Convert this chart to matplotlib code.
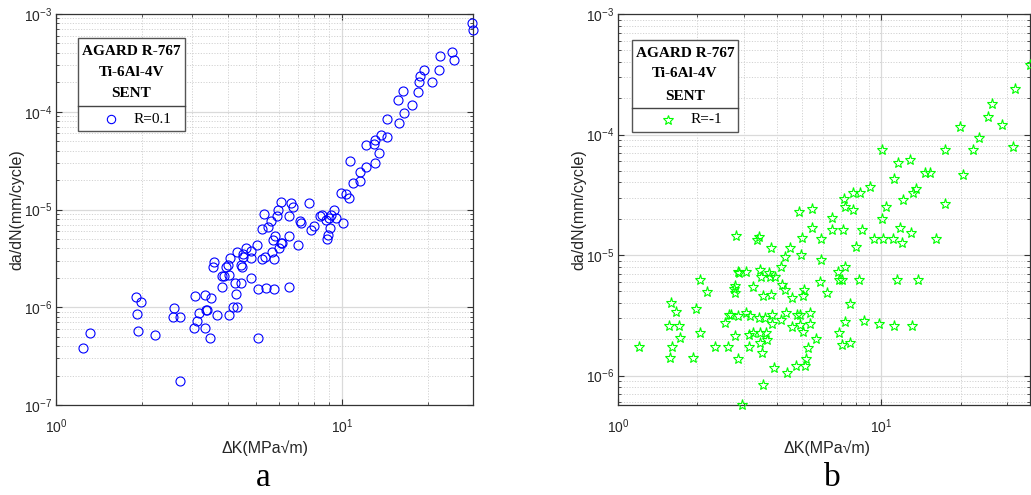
import matplotlib
matplotlib.use('Agg')
import matplotlib.pyplot as plt
from matplotlib.patches import Rectangle
from matplotlib.ticker import LogLocator, NullFormatter

plt.rcParams['font.family'] = ['Liberation Sans', 'DejaVu Sans']
plt.rcParams['mathtext.fontset'] = 'custom'
plt.rcParams['mathtext.rm'] = 'Liberation Sans'
plt.rcParams['mathtext.it'] = 'Liberation Sans:italic'

# panel a, R=0.1
dk_a = [1.24, 1.31, 1.90, 1.98, 1.92, 1.94, 2.22, 2.59, 2.57, 2.72,
        2.72, 3.07, 3.03, 3.10, 3.17, 3.31, 3.47, 3.34, 3.38, 3.33,
        3.45, 3.65, 3.57, 3.54, 3.79, 3.81, 3.86, 3.92, 3.98, 4.05,
        4.04, 4.02, 4.17, 4.31, 4.23, 4.25, 4.31, 4.45, 4.42, 4.47,
        4.49, 4.61, 4.79, 4.82, 5.06, 5.09, 5.07, 5.26, 5.26, 5.34,
        5.40, 5.41, 5.53, 5.66, 5.71, 5.74, 5.77, 5.77, 5.82, 5.91,
        5.96, 6.03, 6.11, 6.11, 6.19, 6.50, 6.50, 6.51, 6.64, 6.74,
        7.04, 7.11, 7.21, 7.67, 7.82, 7.96, 8.35, 8.54, 8.77, 8.84,
        8.96, 9.01, 9.06, 9.13, 9.40, 9.55, 9.95, 10.1, 10.35, 10.6,
        10.7, 10.9, 11.6, 11.6, 12.1, 12.1, 12.9, 13.0, 13.0, 13.5,
        13.7, 14.4, 14.4, 15.8, 15.7, 16.3, 16.5, 17.6, 18.4, 18.6,
        18.7, 19.3, 20.6, 21.9, 22.0, 24.2, 24.7, 28.5, 28.7, 4.79, 4.51]
dadn_a = [3.8e-7, 5.5e-7, 1.28e-6, 1.14e-6, 8.5e-7, 5.7e-7, 5.2e-7, 9.9e-7, 7.9e-7, 7.9e-7,
          1.76e-7, 1.30e-6, 6.1e-7, 7.2e-7, 8.7e-7, 1.35e-6, 1.25e-6, 9.4e-7, 9.4e-7, 6.1e-7,
          4.9e-7, 8.3e-7, 2.9e-6, 2.6e-6, 1.62e-6, 2.09e-6, 2.09e-6, 2.6e-6, 2.7e-6, 3.2e-6,
          2.12e-6, 8.4e-7, 1.0e-6, 1.0e-6, 1.76e-6, 1.37e-6, 3.65e-6, 1.76e-6, 2.7e-6, 2.6e-6,
          3.3e-6, 4.0e-6, 1.98e-6, 3.2e-6, 4.3e-6, 1.52e-6, 4.9e-7, 6.3e-6, 3.1e-6, 9.1e-6,
          3.3e-6, 1.58e-6, 6.7e-6, 7.6e-6, 3.7e-6, 4.9e-6, 3.1e-6, 1.52e-6, 5.3e-6, 8.5e-6,
          9.9e-6, 4.0e-6, 1.20e-5, 4.5e-6, 4.5e-6, 5.3e-6, 8.5e-6, 1.60e-6, 1.16e-5, 1.05e-5,
          4.3e-6, 7.6e-6, 7.2e-6, 1.16e-5, 6.2e-6, 6.8e-6, 8.5e-6, 8.8e-6, 7.8e-6, 5.0e-6,
          5.5e-6, 8.1e-6, 6.4e-6, 8.8e-6, 9.9e-6, 8.1e-6, 1.49e-5, 7.3e-6, 1.44e-5, 1.30e-5,
          3.1e-5, 1.85e-5, 2.4e-5, 1.97e-5, 2.74e-5, 4.6e-5, 4.7e-5, 5.1e-5, 3.0e-5, 3.8e-5,
          5.8e-5, 5.5e-5, 8.4e-5, 7.6e-5, 1.32e-4, 1.63e-4, 9.6e-5, 1.17e-4, 1.60e-4, 2.03e-4,
          2.3e-4, 2.67e-4, 2.0e-4, 2.67e-4, 3.7e-4, 4.06e-4, 3.38e-4, 8.1e-4, 6.9e-4, 3.8e-6, 3.5e-6]

# panel b, R=-1
dk_b = [1.20, 1.59, 1.66, 1.56, 1.70, 1.72, 1.61, 1.57, 1.98, 2.05,
        2.18, 2.05, 1.93, 2.34, 2.54, 2.62, 2.64, 2.69, 2.76, 2.78,
        2.78, 2.78, 2.81, 2.86, 2.89, 2.86, 2.86, 2.96, 3.07, 3.07,
        3.14, 3.14, 3.18, 3.26, 3.26, 3.38, 3.43, 3.45, 3.48, 3.43,
        3.47, 3.45, 3.52, 3.55, 3.55, 3.61, 3.64, 3.68, 3.74, 3.79,
        3.82, 3.82, 3.85, 3.85, 3.91, 3.94, 4.17, 4.20, 4.17, 4.30,
        4.30, 4.36, 4.38, 4.51, 4.59, 4.56, 4.76, 4.80, 4.87, 4.89,
        4.92, 4.97, 5.01, 5.07, 5.04, 5.04, 5.11, 5.19, 5.28, 5.34,
        5.34, 5.47, 5.44, 5.63, 5.92, 5.92, 5.83, 6.22, 6.48, 6.48,
        6.84, 6.90, 6.90, 7.11, 7.11, 7.15, 7.19, 7.26, 7.26, 7.26,
        7.58, 7.58, 7.80, 7.80, 8.04, 8.23, 8.27, 8.47, 8.59, 9.08,
        9.35, 9.80, 10.09, 10.09, 10.15, 10.45, 11.07, 11.17, 11.17, 11.5,
        11.6, 11.8, 12.0, 12.1, 12.8, 13.0, 13.1, 13.2, 13.5, 13.8,
        14.7, 15.3, 16.2, 17.4, 17.5, 19.95, 20.4, 22.3, 23.5, 25.4,
        26.4, 28.7, 31.6, 32.3, 36.7]
dadn_b = [1.72e-6, 4.0e-6, 3.4e-6, 2.6e-6, 2.6e-6, 2.04e-6, 1.72e-6, 1.41e-6, 3.55e-6, 6.2e-6,
          4.9e-6, 2.25e-6, 1.39e-6, 1.72e-6, 2.75e-6, 1.72e-6, 3.2e-6, 3.2e-6, 5.2e-6, 5.5e-6,
          4.8e-6, 2.11e-6, 1.44e-5, 7.3e-6, 7.1e-6, 3.1e-6, 1.37e-6, 5.7e-7, 7.2e-6, 3.3e-6,
          2.18e-6, 1.74e-6, 3.1e-6, 5.4e-6, 2.25e-6, 1.33e-5, 1.42e-5, 7.5e-6, 6.6e-6, 3.0e-6,
          2.25e-6, 1.85e-6, 1.53e-6, 8.4e-7, 4.6e-6, 3.0e-6, 2.25e-6, 1.98e-6, 7.1e-6, 6.6e-6,
          1.14e-5, 4.7e-6, 3.2e-6, 2.7e-6, 1.15e-6, 6.6e-6, 8.0e-6, 5.6e-6, 2.9e-6, 9.7e-6,
          5.1e-6, 3.3e-6, 1.05e-6, 1.14e-5, 4.4e-6, 2.55e-6, 1.19e-6, 3.2e-6, 2.29e-5, 3.2e-6,
          2.64e-6, 1.0e-5, 1.38e-5, 5.1e-6, 4.6e-6, 2.32e-6, 1.19e-6, 1.37e-6, 1.69e-6, 2.7e-6,
          3.3e-6, 2.4e-5, 1.69e-5, 2.0e-6, 1.35e-5, 9.1e-6, 6.0e-6, 4.8e-6, 2.02e-5, 1.62e-5,
          7.3e-6, 6.2e-6, 2.25e-6, 6.2e-6, 1.78e-6, 1.62e-5, 2.9e-5, 2.5e-5, 8.0e-6, 2.8e-6,
          1.85e-6, 3.9e-6, 3.26e-5, 2.37e-5, 1.17e-5, 6.2e-6, 3.26e-5, 1.62e-5, 2.86e-6, 3.7e-5,
          1.35e-5, 2.7e-6, 7.5e-5, 1.98e-5, 1.35e-5, 2.5e-5, 1.35e-5, 4.3e-5, 2.58e-6, 6.2e-6,
          5.8e-5, 1.67e-5, 1.27e-5, 2.86e-5, 6.1e-5, 1.52e-5, 2.58e-6, 3.3e-5, 3.5e-5, 6.2e-6,
          4.8e-5, 4.8e-5, 1.35e-5, 7.4e-5, 2.64e-5, 1.15e-4, 4.6e-5, 7.4e-5, 9.3e-5, 1.41e-4,
          1.78e-4, 1.19e-4, 7.9e-5, 2.4e-4, 3.8e-4]

title_lines = ['AGARD R-767', 'Ti-6Al-4V', 'SENT']
W, H = 1031, 495
txtcol = '#262626'


def style_axes(ax, xlim, ylim):
    ax.set_xscale('log')
    ax.set_yscale('log')
    ax.set_xlim(*xlim)
    ax.set_ylim(*ylim)
    ax.xaxis.set_major_locator(LogLocator(base=10))
    ax.yaxis.set_major_locator(LogLocator(base=10))
    ax.xaxis.set_minor_locator(LogLocator(base=10, subs=range(2, 10)))
    ax.yaxis.set_minor_locator(LogLocator(base=10, subs=range(2, 10)))
    ax.xaxis.set_minor_formatter(NullFormatter())
    ax.yaxis.set_minor_formatter(NullFormatter())
    ax.grid(True, which='major', color='#dadada', lw=0.9, ls='-')
    ax.grid(True, which='minor', color='#d2d2d2', lw=0.7, ls=(0, (1.2, 1.6)))
    ax.set_axisbelow(True)
    for s in ax.spines.values():
        s.set_color('#333333')
        s.set_linewidth(0.9)
    ax.tick_params(which='both', direction='in', top=True, right=True,
                   colors='#333333', labelcolor=txtcol, labelsize=10)
    ax.tick_params(which='major', length=4)
    ax.tick_params(which='minor', length=2)
    ax.tick_params(axis='x', pad=9)
    ax.tick_params(axis='y', pad=3)
    ax.set_xlabel('ΔK(MPa√m)', fontsize=11.5, color=txtcol)
    ax.set_ylabel('da/dN(mm/cycle)', fontsize=11.5, color=txtcol)


def legend_box(ax, x0, x1, y0, y1, ydiv, ylines, mx, my, tx, marker, color, label):
    ax.add_patch(Rectangle((x0, y0), x1 - x0, y1 - y0, transform=ax.transAxes,
                           facecolor='white', edgecolor='#555555', lw=1.0, zorder=5))
    ax.plot([x0, x1], [ydiv, ydiv], transform=ax.transAxes, color='#444444', lw=1.0, zorder=6)
    for t, yy in zip(title_lines, ylines):
        ax.text((x0 + x1) / 2, yy, t, transform=ax.transAxes, ha='center', va='center',
                fontsize=11, fontweight='bold', family='Liberation Serif', zorder=7)
    ax.plot([mx], [my], transform=ax.transAxes, marker=marker, ms=6 if marker == 'o' else 7,
            mfc='none', mec=color, mew=0.8, ls='none', zorder=7, clip_on=False)
    ax.text(tx, my, label, transform=ax.transAxes, ha='left', va='center',
            fontsize=11, family='Liberation Serif', zorder=7)


fig = plt.figure(figsize=(W / 100, H / 100), dpi=100)
ax1 = fig.add_axes([56 / W, 90 / H, 417 / W, 391 / H])
ax2 = fig.add_axes([618 / W, 90 / H, 412 / W, 391 / H])

style_axes(ax1, (1, 28.7), (1e-7, 1e-3))
style_axes(ax2, (1, 36.7), (5.7e-7, 1e-3))

ax1.plot(dk_a, dadn_a, ls='none', marker='o', ms=6.5, mfc='none', mec=(0, 0, 1), mew=0.8,
         clip_on=False, zorder=3)
ax2.plot(dk_b, dadn_b, ls='none', marker='*', ms=8, mfc='none', mec=(0, 1, 0), mew=0.8,
         clip_on=False, zorder=3)

for ax, xc in ((ax1, 0.501), (ax2, 0.507)):
    ax.xaxis.set_label_coords(xc, -0.11)
    ax.xaxis.label.set_va('center')
    ax.yaxis.set_label_coords(-0.094, 0.5)
    ax.yaxis.label.set_va('center')

legend_box(ax1, 0.053, 0.309, 0.701, 0.939, 0.765, [0.904, 0.850, 0.796],
           0.132, 0.731, 0.185, 'o', (0, 0, 1), 'R=0.1')
legend_box(ax2, 0.034, 0.291, 0.698, 0.933, 0.760, [0.900, 0.847, 0.790],
           0.121, 0.729, 0.177, '*', (0, 1, 0), 'R=-1')

fig.text(263 / W, 1 - 478 / H, 'a', ha='center', va='center', fontsize=24, family='Liberation Serif')
fig.text(832 / W, 1 - 478 / H, 'b', ha='center', va='center', fontsize=24, family='Liberation Serif')

fig.savefig('out.png', dpi=100, facecolor='white')
